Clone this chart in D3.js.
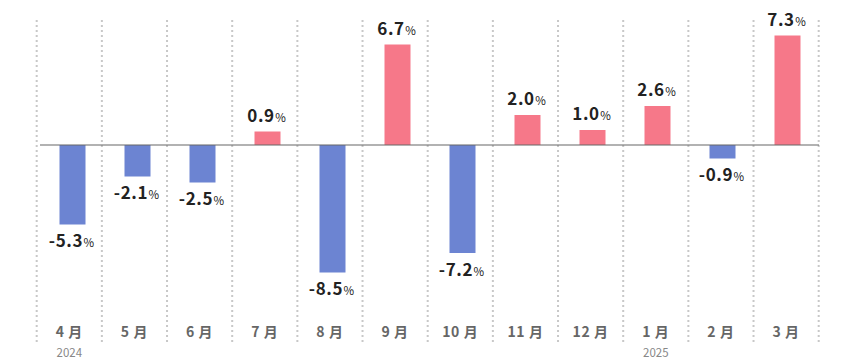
<!DOCTYPE html>
<html><head><meta charset="utf-8">
<script src="https://cdn.jsdelivr.net/npm/d3@7"></script>
<style>body{margin:0;background:#fff;} svg{display:block;font-family:"Noto Sans CJK JP","Noto Sans",sans-serif;}</style>
</head><body>
<svg id="c" width="860" height="360"></svg>
<script>
const months = ["4 月","5 月","6 月","7 月","8 月","9 月","10 月","11 月","12 月","1 月","2 月","3 月"];
const values = [-5.3,-2.1,-2.5,0.9,-8.5,6.7,-7.2,2.0,1.0,2.6,-0.9,7.3];
const years = [{idx:0,label:"2024"},{idx:9,label:"2025"}];

const svg = d3.select("#c");
const gridX = d3.scaleLinear().domain([0,12]).range([36.7,818.7]);
const x = d3.scaleBand().domain(d3.range(12)).range([40,820]).paddingInner(0.6).paddingOuter(0.3);
const y = d3.scaleLinear().domain([-8.5,7.3]).range([272.5,35.5]);

// grid lines
svg.append("g").selectAll("line").data(d3.range(13)).join("line")
  .attr("x1",d=>gridX(d)).attr("x2",d=>gridX(d))
  .attr("y1",20).attr("y2",342)
  .attr("stroke","#c8c8c8").attr("stroke-width",2).attr("stroke-dasharray","2,3");

// bars
svg.append("g").selectAll("rect").data(values).join("rect")
  .attr("x",(d,i)=>x(i)).attr("width",x.bandwidth())
  .attr("y",d=>y(Math.max(0,d))).attr("height",d=>Math.abs(y(d)-y(0)))
  .attr("fill",d=>d>=0?"#f67889":"#6c84d2");

// zero line
svg.append("line").attr("x1",40).attr("x2",819).attr("y1",y(0)).attr("y2",y(0))
  .attr("stroke","#666").attr("stroke-width",1.2);

// value labels
const lab = svg.append("g").selectAll("text").data(values).join("text")
  .attr("x",(d,i)=>x(i)+x.bandwidth()/2-1)
  .attr("y",d=>d>=0?y(d)-10:y(d)+22.5)
  .attr("text-anchor","middle").attr("fill","#222");
lab.append("tspan").attr("font-size",17).attr("font-weight","bold").attr("letter-spacing",0.6).text(d=>d.toFixed(1));
lab.append("tspan").attr("font-size",11.5).attr("letter-spacing",0).attr("dx",0.5).text("%");

// month labels
svg.append("g").selectAll("text").data(months).join("text")
  .attr("x",(d,i)=>(gridX(i)+gridX(i+1))/2).attr("y",336.5)
  .attr("text-anchor","middle").attr("font-size",14).attr("font-weight","bold").attr("fill","#666")
  .attr("letter-spacing",0.6)
  .text(d=>d);

// years
svg.append("g").selectAll("text").data(years).join("text")
  .attr("x",d=>(gridX(d.idx)+gridX(d.idx+1))/2).attr("y",357)
  .attr("text-anchor","middle").attr("font-size",11.5).attr("fill","#888")
  .text(d=>d.label);
</script>
</body></html>
